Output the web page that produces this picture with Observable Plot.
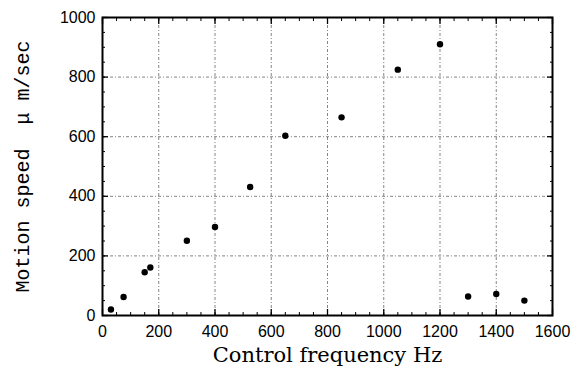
<!DOCTYPE html>
<html><head><meta charset="utf-8">
<script src="https://cdn.jsdelivr.net/npm/d3@7"></script>
<script src="https://cdn.jsdelivr.net/npm/@observablehq/plot@0.6"></script>
<style>body{margin:0;background:#fff}</style>
</head><body><div id="chart"></div>
<script>
const frequencyHz = [30, 75, 150, 170, 300, 400, 525, 650, 850, 1050, 1200, 1300, 1400, 1500];
const speedUmPerSec = [20, 62, 145, 161, 251, 297, 431, 603, 665, 825, 910, 64, 72, 50];
const xTicks = [0, 200, 400, 600, 800, 1000, 1200, 1400, 1600];
const yTicks = [0, 200, 400, 600, 800, 1000];
const xMinorTicks = [0,50,100,150,200,250,300,350,400,450,500,550,600,650,700,750,800,850,900,950,1000,1050,1100,1150,1200,1250,1300,1350,1400,1450,1500,1550,1600];
const yMinorTicks = [0,50,100,150,200,250,300,350,400,450,500,550,600,650,700,750,800,850,900,950,1000];
const xLabel = "Control frequency Hz";
const yLabel = "Motion speed  μ m/sec";

const data = frequencyHz.map((f, i) => ({f, v: speedUmPerSec[i]}));
const tickFont = {fontFamily: "'Liberation Sans', Arial, sans-serif", fontSize: 16, fill: "black"};
const gridStyle = {stroke: "#333", strokeOpacity: 0.75, strokeWidth: 0.8, strokeDasharray: "3,2,1,2"};

const chart = Plot.plot({
  width: 574, height: 374,
  marginLeft: 102, marginRight: 22, marginTop: 17, marginBottom: 59,
  x: {domain: [0, 1600]},
  y: {domain: [0, 1000]},
  marks: [
    Plot.gridX(xTicks.slice(1, -1), gridStyle),
    Plot.gridY(yTicks.slice(1, -1), gridStyle),
    Plot.axisX(xMinorTicks, {anchor: "bottom", tickSize: -3, fill: "none", stroke: "black", label: null}),
    Plot.axisX(xMinorTicks, {anchor: "top", tickSize: -3, fill: "none", stroke: "black", label: null}),
    Plot.axisX(xTicks, {anchor: "bottom", tickSize: -6, fill: "none", stroke: "black", strokeWidth: 1.3, label: null}),
    Plot.axisX(xTicks, {anchor: "top", tickSize: -6, fill: "none", stroke: "black", strokeWidth: 1.3, label: null}),
    Plot.axisY(yMinorTicks, {anchor: "left", tickSize: -3, fill: "none", stroke: "black", label: null}),
    Plot.axisY(yMinorTicks, {anchor: "right", tickSize: -3, fill: "none", stroke: "black", label: null}),
    Plot.axisY(yTicks, {anchor: "left", tickSize: -6, fill: "none", stroke: "black", strokeWidth: 1.3, label: null}),
    Plot.axisY(yTicks, {anchor: "right", tickSize: -6, fill: "none", stroke: "black", strokeWidth: 1.3, label: null}),
    Plot.axisX(xTicks, {anchor: "bottom", tickSize: 0, tickPadding: 10, tickFormat: d => String(d), ...tickFont, label: null}),
    Plot.axisY(yTicks, {anchor: "left", tickSize: 0, tickPadding: 7, tickFormat: d => String(d), ...tickFont, label: null}),
    Plot.frame({stroke: "black", strokeWidth: 2}),
    Plot.dot(data, {x: "f", y: "v", r: 3.2, fill: "black", stroke: null}),
    Plot.text([xLabel], {frameAnchor: "bottom", dy: 40, textAnchor: "middle", lineAnchor: "middle", fontFamily: "'DejaVu Serif', serif", fontSize: 21, letterSpacing: 0.4, fill: "black"}),
    Plot.text([yLabel], {frameAnchor: "left", dx: -80, rotate: -90, textAnchor: "middle", lineAnchor: "middle", fontFamily: "'Liberation Mono', monospace", fontSize: 20, fill: "black"})
  ]
});
document.getElementById("chart").appendChild(chart);
</script>
</body></html>
